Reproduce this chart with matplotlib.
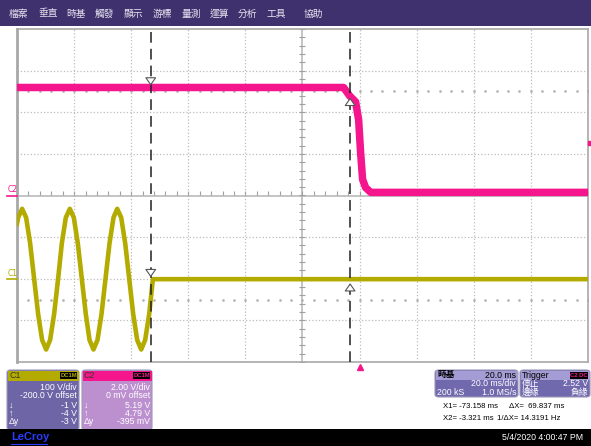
import matplotlib
matplotlib.use("Agg")
import matplotlib.pyplot as plt
import numpy as np
from matplotlib.patches import Rectangle, FancyBboxPatch

plt.rcParams["font.family"] = ["Liberation Sans", "DejaVu Sans", "Noto Sans CJK TC"]

# time axis: ms relative to trigger (20 ms/div, 10 div)
t_min, t_max = -120.0, 80.0
c1_scale, c1_offset = 100.0, -200.0   # V/div, V
c2_scale, c2_offset = 2.0, 0.0

# C1 trace (line voltage, V)
c1_t = [-120.0, -119.6, -118.2, -116.8, -115.4, -114.0, -112.6, -111.2, -109.8,
        -108.4, -107.0, -105.6, -104.3, -102.9, -101.5, -100.1, -98.7, -97.3,
        -95.9, -94.6, -93.2, -91.8, -90.4, -89.0, -87.6, -86.2, -84.9, -83.5,
        -82.1, -80.7, -79.3, -77.9, -76.5, -75.1, -73.7, -72.4, 80.0]
c1_v = [132, 147, 168, 147, 85, 0, -85, -147, -170,
        -147, -85, 0, 85, 147, 168, 147, 85, 0,
        -85, -147, -170, -147, -85, 0, 85, 147, 168, 147,
        85, 0, -85, -147, -170, -147, -85, -1, -1]

# C2 trace (V)
c2_t = [-120.0, -5.6, -3.5, -1.4, -0.35, 0.35, 1.05, 2.1, 3.9, 80.0]
c2_v = [5.19, 5.19, 4.79, 4.5, 3.65, 2.07, 0.77, 0.38, 0.15, 0.15]

# cursors (ms) and readouts
x1, x2 = -73.158, -3.321
trig_level = 2.52

menu_items = ["檔案", "垂直", "時基", "觸發", "顯示", "游標", "量測", "運算", "分析", "工具", "協助"]
menu_x = [9, 38, 66, 95, 124, 153, 182, 210, 238, 266, 304]

c1_rows = [("", "100 V/div"), ("", "-200.0 V offset"), ("↓", "-1 V"), ("↑", "-4 V"), ("Δy", "-3 V")]
c2_rows = [("", "2.00 V/div"), ("", "0 mV offset"), ("↓", "5.19 V"), ("↑", "4.79 V"), ("Δy", "-395 mV")]

PINK = "#F5168E"
OLIVE = "#B3AB00"
W, H = 591, 446


def fx(x):
    return x / W


def fy(y):
    return 1 - y / H


def c1_div(v):
    return (np.asarray(v, dtype=float) + c1_offset) / c1_scale


def c2_div(v):
    return (np.asarray(v, dtype=float) + c2_offset) / c2_scale


fig = plt.figure(figsize=(W / 100, H / 100), dpi=100)
fig.patch.set_facecolor("white")

# menu bar
fig.patches.append(Rectangle((0, fy(26)), 1, 26 / H, transform=fig.transFigure,
                             facecolor="#3F316E", edgecolor="none"))
for name, mx in zip(menu_items, menu_x):
    fig.text(fx(mx), fy(13.5), name, color="#E6E4F0", fontsize=7,
             family=["Noto Sans CJK TC"], va="center", ha="left")

# main screen
ax = fig.add_axes([fx(17), fy(362), 571 / W, 333 / H])
ax.set_xlim(t_min, t_max)
ax.set_ylim(-4, 4)
ax.set_xticks([])
ax.set_yticks([])
for s in ax.spines.values():
    s.set_color("#A8A8A8")
    s.set_linewidth(1.2)
ax.spines["left"].set_linewidth(2)

for t in np.arange(t_min + 20, t_max, 20):
    if abs(t - (-20)) > 1e-6:
        ax.axvline(t, color="#BDBDBD", ls=":", lw=0.9, zorder=1)
for d in range(-3, 4):
    if d != 0:
        ax.axhline(d, color="#BDBDBD", ls=":", lw=0.9, zorder=1)
ax.axvline(-20, color="#B4B4B4", lw=1.1, zorder=1)
ax.axhline(0, color="#B4B4B4", lw=1.1, zorder=1)
ticks_t = np.arange(t_min, t_max + 0.1, 4)
ax.plot(ticks_t, np.zeros_like(ticks_t) + 0.06, ls="none", marker="|", ms=3,
        color="#A0A0A0", mew=0.8, zorder=1)
ticks_d = np.arange(-4, 4.01, 0.2)
ax.plot(np.full_like(ticks_d, -20), ticks_d, ls="none", marker="_", ms=5,
        color="#A0A0A0", mew=0.8, zorder=1)
for d in (2.5, -2.5):
    ax.plot(ticks_t, np.full_like(ticks_t, d), ls="none", marker="s", ms=0.8,
            color="#B0B0B0", zorder=1)

# traces
ax.plot(c1_t, c1_div(c1_v), color=OLIVE, lw=3.3, solid_joinstyle="round", zorder=3)
ax.plot(c2_t, c2_div(c2_v), color=PINK, lw=5.4, solid_joinstyle="round", zorder=3)

# cursors
for xc in (x1, x2):
    ax.axvline(xc, color="#202020", lw=1.1, ls=(0, (7, 4)), zorder=4)


def marker_arrow(x, tip, tail):
    ax.annotate("", xy=(x, tip), xytext=(x, tail),
                arrowprops=dict(arrowstyle="simple,head_width=0.7,head_length=0.5,tail_width=0.3",
                                fc="white", ec="#555555", lw=0.8), zorder=5)


marker_arrow(x1, c2_div(5.19), c2_div(5.19) + 0.30)
marker_arrow(x1, c1_div(-1), c1_div(-1) + 0.30)
marker_arrow(x2, c2_div(4.79), c2_div(4.79) - 0.30)
marker_arrow(x2, c1_div(-4) - 0.02, c1_div(-4) - 0.32)

# trigger markers
ax.plot([0], [-4.12], marker="^", ms=5, color=PINK, clip_on=False, zorder=6)
ax.plot([t_max + 0.8], [c2_div(trig_level)], marker="s", ms=2.5, color=PINK,
        clip_on=False, zorder=6)

# channel ground markers
fig.text(fx(7.5), fy(190), "C2", color=PINK, fontsize=5.5, va="center", family=["DejaVu Sans"])
fig.add_artist(plt.Line2D([fx(7), fx(17)], [fy(195.5), fy(195.5)], color=PINK, lw=1.2))
fig.text(fx(7.5), fy(273), "C1", color=OLIVE, fontsize=5.5, va="center", family=["DejaVu Sans"])
fig.add_artist(plt.Line2D([fx(7), fx(17)], [fy(278.5), fy(278.5)], color=OLIVE, lw=1.2))


def box(x0, y0, x1_, y1_, color, ec="#9C98B8"):
    p = FancyBboxPatch((fx(x0), fy(y1_)), (x1_ - x0) / W, (y1_ - y0) / H,
                       boxstyle="round,pad=0,rounding_size=0.006",
                       transform=fig.transFigure, facecolor=color, edgecolor=ec, lw=0.8)
    fig.patches.append(p)


def channel_panel(x0, x1_, head_col, body_col, label, badge_col, rows):
    box(x0, 370, x1_, 430, body_col)
    fig.patches.append(Rectangle((fx(x0 + 0.5), fy(381)), (x1_ - x0 - 1) / W, 10.5 / H,
                                 transform=fig.transFigure, facecolor=head_col, edgecolor="none"))
    fig.text(fx(x0 + 2), fy(375.5), label, fontsize=6.5, color="#3A3A20", va="center")
    fig.patches.append(Rectangle((fx(x1_ - 19), fy(379)), 17 / W, 7 / H,
                                 transform=fig.transFigure, facecolor="black", edgecolor="none"))
    fig.text(fx(x1_ - 10.5), fy(375.5), "DC1M", fontsize=4.2, color=badge_col,
             va="center", ha="center", weight="bold")
    ys = [387, 396, 405, 413.5, 422]
    for (sym, val), yy in zip(rows, ys):
        if sym:
            fig.text(fx(x0 + 2), fy(yy), sym, fontsize=6.3, color="white", va="center")
        fig.text(fx(x1_ - 2), fy(yy), val, fontsize=6.3, color="white", va="center", ha="right")


channel_panel(7, 79, OLIVE, "#6E65A6", "C1", OLIVE, c1_rows)
channel_panel(82, 152, PINK, "#BC8FCF", "C2", PINK, c2_rows)

# timebase and trigger panels
box(435, 370, 518, 397, "#7169AE")
box(520, 370, 590, 397, "#7169AE")
for a, b in ((435, 518), (520, 590)):
    fig.patches.append(Rectangle((fx(a + 0.5), fy(380)), (b - a - 1) / W, 9.5 / H,
                                 transform=fig.transFigure, facecolor="#A49CD4", edgecolor="none"))
fig.text(fx(437), fy(375), "時基", fontsize=6.3, color="black", va="center",
         family=["Noto Sans CJK TC"], weight="bold")
fig.text(fx(516), fy(375), "20.0 ms", fontsize=6.3, color="black", va="center", ha="right")
fig.text(fx(516), fy(384), "20.0 ms/div", fontsize=6.3, color="white", va="center", ha="right")
fig.text(fx(437), fy(392.5), "200 kS", fontsize=6.3, color="white", va="center")
fig.text(fx(516), fy(392.5), "1.0 MS/s", fontsize=6.3, color="white", va="center", ha="right")
fig.text(fx(522), fy(375), "Trigger", fontsize=6.3, color="black", va="center")
fig.patches.append(Rectangle((fx(570), fy(379)), 18 / W, 7 / H,
                             transform=fig.transFigure, facecolor="black", edgecolor="none"))
fig.text(fx(579), fy(375.5), "C2 DC", fontsize=4.2, color=PINK, va="center", ha="center",
         weight="bold")
fig.text(fx(522), fy(384), "停止", fontsize=6.3, color="white", va="center",
         family=["Noto Sans CJK TC"])
fig.text(fx(588), fy(384), "2.52 V", fontsize=6.3, color="white", va="center", ha="right")
fig.text(fx(522), fy(392.5), "邊緣", fontsize=6.3, color="white", va="center",
         family=["Noto Sans CJK TC"])
fig.text(fx(588), fy(392.5), "負緣", fontsize=6.3, color="white", va="center", ha="right",
         family=["Noto Sans CJK TC"])

# cursor readouts
rd = dict(fontsize=5.6, color="black", va="center")
fig.text(fx(443), fy(406), "X1= -73.158 ms", **rd)
fig.text(fx(509), fy(406), "ΔX=  69.837 ms", **rd)
fig.text(fx(443), fy(418), "X2= -3.321 ms", **rd)
fig.text(fx(497), fy(418), "1/ΔX= 14.3191 Hz", **rd)

# bottom status bar
fig.patches.append(Rectangle((0, 0), 1, 17 / H, transform=fig.transFigure,
                             facecolor="black", edgecolor="none"))
fig.text(fx(11), fy(437.5), "LeCroy", fontsize=8, color="#2A3CFF", va="center", weight="bold")
fig.add_artist(plt.Line2D([fx(11), fx(47)], [fy(443.5), fy(443.5)], color="#2A3CFF", lw=0.8))
fig.text(fx(583), fy(437.5), "5/4/2020 4:00:47 PM", fontsize=6.3, color="white",
         va="center", ha="right")

fig.savefig("out.png", dpi=100)
